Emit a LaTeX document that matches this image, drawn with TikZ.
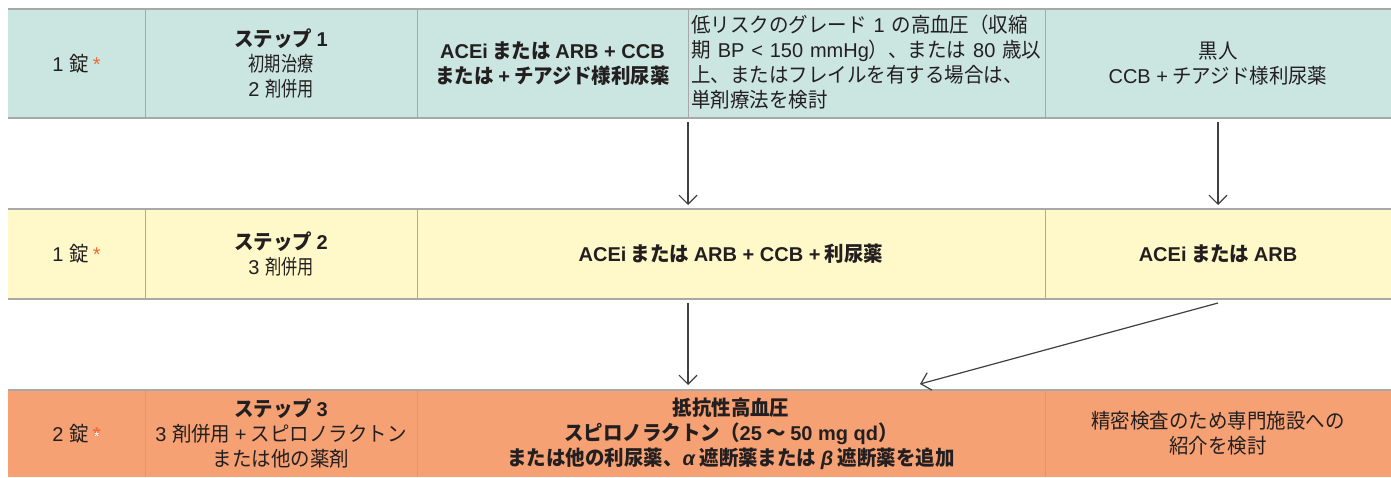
\documentclass[tikz,border=0pt]{standalone}
\usepackage{fontspec}
\setmainfont{Noto Sans CJK JP}[FakeStretch=0.95]
\newfontfamily\condf{Noto Sans CJK JP}[FakeStretch=0.79]
\newfontfamily\latf{Liberation Sans}
\newcommand{\la}[1]{{\latf\fontsize{20}{24.8}\selectfont #1}}
\usetikzlibrary{arrows.meta}
\definecolor{rowA}{HTML}{CBE6E1}
\definecolor{rowB}{HTML}{FFF9C9}
\definecolor{rowC}{HTML}{F6A174}
\definecolor{rulec}{HTML}{A8A8A8}
\definecolor{ink}{HTML}{231F20}
\definecolor{starc}{HTML}{EE6B35}
\newcommand{\orstar}{\textcolor{starc}{\la{*}}}
\newcommand{\wstar}{\ooalign{\textcolor{starc}{\la{\bfseries *}}\cr\hidewidth\textcolor{white}{\latf\fontsize{14}{14}\selectfont *}\hidewidth}}
\tikzset{
  cell/.style={inner sep=0pt, outer sep=0pt, text=ink, align=center,
    font=\fontsize{20.5}{24.8}\selectfont},
  bcell/.style={cell, font=\fontsize{20.5}{24.8}\selectfont\bfseries},
  hline/.style={draw=rulec, line width=1.8pt},
  vline/.style={draw=rulec, line width=1pt},
  arr/.style={draw=black!75, line width=1.2pt, -{Straight Barb[length=9pt,width=18pt,line width=1.2pt]}},
}
\begin{document}
\begin{tikzpicture}[x=1pt,y=-1pt]
\useasboundingbox (0,0) rectangle (1391,477);
\fill[white] (0,0) rectangle (1391,477);
% row 1
\node[cell, fill=rowA, minimum width=137pt, minimum height=109pt] (a1) at (76.5,63.5) {\la{1 }錠 \orstar};
\node[cell, fill=rowA, minimum width=272pt, minimum height=109pt] (a2) at (281,63.5) {\textbf{ステップ \la{\bfseries 1}}\\{\condf 初期治療}\\\la{2 }{\condf 剤併用}};
\node[bcell, fill=rowA, minimum width=271pt, minimum height=109pt] (a3) at (552.5,63.5) {\la{\bfseries ACEi} または \la{\bfseries ARB + CCB}\\または \la{\bfseries +} チアジド様利尿薬};
\node[cell, fill=rowA, minimum width=357pt, minimum height=109pt, align=left, text width=350pt] (a4) at (866.5,62) {低リスクのグレード \la{1} の高血圧（収縮\\期 \la{BP <\ 150 mmHg}）、または \la{80} 歳以\\上、またはフレイルを有する場合は、\\単剤療法を検討};
\node[cell, fill=rowA, minimum width=346pt, minimum height=109pt] (a5) at (1218,63.5) {黒人\\\la{CCB +} チアジド様利尿薬};
% row 2
\node[cell, fill=rowB, minimum width=137pt, minimum height=90pt] (b1) at (76.5,254) {\la{1 }錠 \orstar};
\node[cell, fill=rowB, minimum width=272pt, minimum height=90pt] (b2) at (281,254) {\textbf{ステップ \la{\bfseries 2}}\\\la{3 }{\condf 剤併用}};
\node[bcell, fill=rowB, minimum width=628pt, minimum height=90pt] (b3) at (731,254) {\la{\bfseries ACEi} または \la{\bfseries ARB + CCB +} 利尿薬};
\node[bcell, fill=rowB, minimum width=346pt, minimum height=90pt] (b5) at (1218,254) {\la{\bfseries ACEi} または \la{\bfseries ARB}};
% row 3
\node[cell, fill=rowC, minimum width=137pt, minimum height=87pt] (c1) at (76.5,433.5) {\la{2 }錠 \wstar};
\node[cell, fill=rowC, minimum width=272pt, minimum height=87pt] (c2) at (281,433.5) {\textbf{ステップ \la{\bfseries 3}}\\\la{3 }剤併用 \la{+} スピロノラクトン\\または他の薬剤};
\node[bcell, fill=rowC, minimum width=628pt, minimum height=87pt] (c3) at (731,433.5) {抵抗性高血圧\\スピロノラクトン（\la{\bfseries 25} ～ \la{\bfseries 50 mg qd}）\\または他の利尿薬、\la{\bfseries\itshape α} 遮断薬または \la{\bfseries\itshape β} 遮断薬を追加};
\node[cell, fill=rowC, minimum width=346pt, minimum height=87pt] (c5) at (1218,433.5) {精密検査のため専門施設への\\紹介を検討};
% rules
\foreach \r in {a1,b1,c1} {
  \draw[hline] (\r.north west) -- (\r.north west -| 1391,0);
}
\draw[hline] (a1.south west) -- (a1.south west -| 1391,0);
\draw[hline] (b1.south west) -- (b1.south west -| 1391,0);
\draw[vline] (a1.north east) -- (a1.south east);
\draw[vline] (a2.north east) -- (a2.south east);
\draw[vline] (a3.north east) -- (a3.south east);
\draw[vline] (a4.north east) -- (a4.south east);
\draw[vline] (b1.north east) -- (b1.south east);
\draw[vline] (b2.north east) -- (b2.south east);
\draw[vline] (b3.north east) -- (b3.south east);
\draw[vline] (c1.north east) -- (c1.south east);
\draw[vline] (c2.north east) -- (c2.south east);
\draw[vline] (c3.north east) -- (c3.south east);
% arrows
\draw[arr] ([yshift=-4pt]a3.south east) -- ([yshift=4pt]b3.north -| a3.east);
\draw[arr] ([yshift=-4pt]a5.south) -- ([yshift=4pt]b5.north);
\draw[arr] ([yshift=-4pt]b3.south -| a3.east) -- ([yshift=5pt]c3.north -| a3.east);
\draw[arr] ([yshift=-4pt]b5.south) -- ([xshift=189pt,yshift=6pt]c3.north);
\end{tikzpicture}
\end{document}
